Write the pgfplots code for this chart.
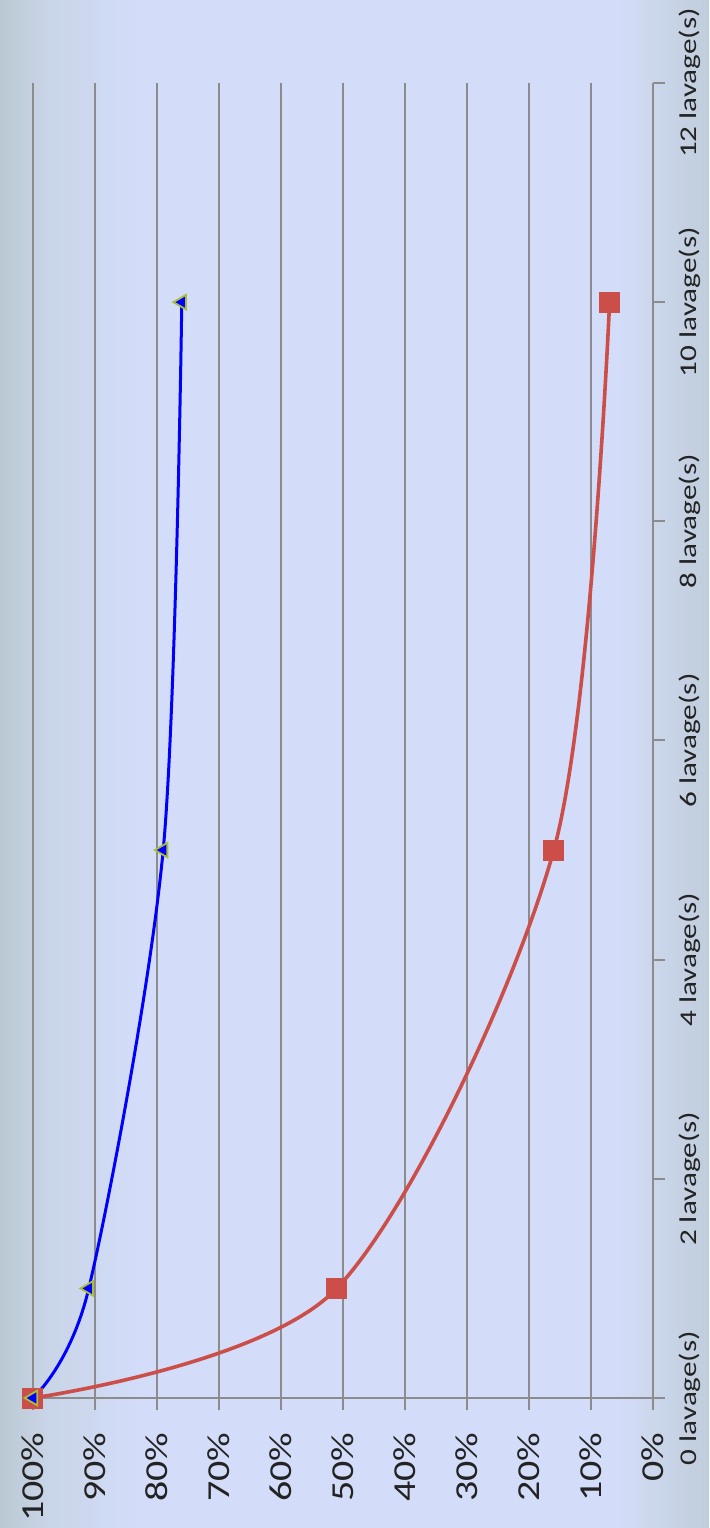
\documentclass[border=0pt]{standalone}
\usepackage{fontspec}
\setmainfont{Carlito}
\usepackage{pgfplots}
\pgfplotsset{compat=1.18}

\definecolor{bgL}{RGB}{186,200,210}
\definecolor{bgM}{RGB}{200,212,230}
\definecolor{bgC}{RGB}{211,221,250}
\definecolor{bgR1}{RGB}{204,215,236}
\definecolor{bgR2}{RGB}{192,205,220}
\definecolor{gridgray}{RGB}{140,140,140}
\definecolor{seriesred}{RGB}{204,78,72}
\definecolor{markedge}{RGB}{170,190,60}
\definecolor{labelgray}{RGB}{35,35,35}

% horizontal background: gray edge on the left, lavender body, grayish at the right
\pgfdeclarehorizontalshading{bgshade}{100bp}{%
  color(0bp)=(bgL); color(25bp)=(bgL); color(28bp)=(bgM);
  color(35bp)=(bgC); color(68.5bp)=(bgC); color(71bp)=(bgR1);
  color(75bp)=(bgR2); color(100bp)=(bgR2)}

% values: (percent, number of washes)
\pgfplotstableread{
pct  n
100  0
91   1
79   5
76   10
}\bluedata
\pgfplotstableread{
pct  n
100  0
51   1
16   5
7    10
}\reddata

\begin{document}
\begin{tikzpicture}
\shade[shading=bgshade] (-16.5pt,-65pt) rectangle (338pt,699pt);
\begin{axis}[
    at={(0pt,0pt)}, anchor=south west,
    scale only axis,
    width=310pt, height=657.5pt,
    x dir=reverse,
    xmin=0, xmax=100,
    ymin=0, ymax=12,
    axis x line*=bottom,
    axis y line*=right,
    xtick={0,10,...,100},
    xticklabels={0\%,10\%,20\%,30\%,40\%,50\%,60\%,70\%,80\%,90\%,100\%},
    ytick={0,2,...,12},
    yticklabels={0 lavage(s),2 lavage(s),4 lavage(s),6 lavage(s),8 lavage(s),10 lavage(s),12 lavage(s)},
    tick align=outside,
    major tick length=6pt,
    tick style={gridgray, line width=1pt},
    axis line style={gridgray, line width=1pt, -},
    xmajorgrids=true,
    grid style={gridgray, line width=1pt},
    xticklabel shift=11pt,
    yticklabel shift=7pt,
    xticklabel style={rotate=90, xscale=1.25, anchor=east, inner sep=0pt,
        text=labelgray, font=\fontsize{16}{16}\selectfont},
    yticklabel style={rotate=90, xscale=1.3, anchor=north, inner sep=0pt,
        text=labelgray, font=\fontsize{12}{12}\selectfont},
    clip=false,
]
\addplot[seriesred, line width=1.8pt, smooth,
    mark=square*, mark size=5pt, mark options={fill=seriesred, draw=seriesred, line width=0.5pt}]
    table[x=pct, y=n] {\reddata};
\addplot[blue, line width=1.5pt, smooth,
    mark=triangle*, mark size=4.2pt, mark options={rotate=90, fill=blue, draw=markedge, line width=0.9pt}]
    table[x=pct, y=n] {\bluedata};
\end{axis}
\pgfresetboundingbox
\path (-16.5pt,-65pt) rectangle (338pt,699pt);
\end{tikzpicture}
\end{document}
